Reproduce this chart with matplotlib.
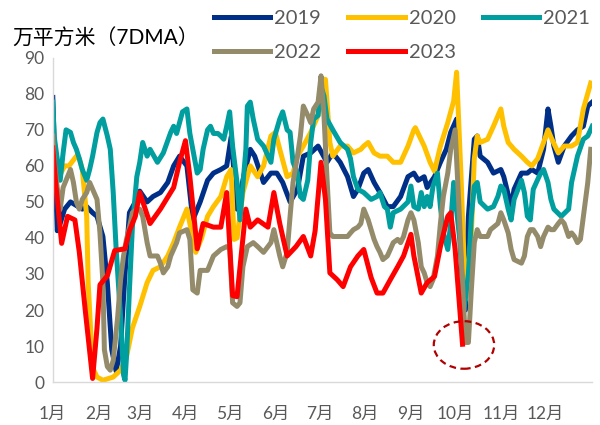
import matplotlib
matplotlib.use("Agg")
import matplotlib.pyplot as plt
from matplotlib.patches import Ellipse

plt.rcParams['font.family'] = ['Lato', 'Noto Sans CJK SC', 'DejaVu Sans']

# day of year -> 7DMA value
days_2019 = [0, 1, 3, 5, 8, 12, 16, 20, 23, 27, 30, 34, 37, 40, 43, 46, 49, 52, 56, 59,
             64, 68, 73, 78, 82, 86, 91, 95, 100, 105, 109, 114, 118, 121, 125, 130, 134, 137,
             143, 148, 152, 156, 161, 166, 170, 175, 180, 186, 190, 195, 200, 204, 207, 211,
             214, 218, 222, 227, 231, 236, 241, 245, 248, 252, 254, 259, 263, 267, 270, 274,
             277, 280, 282, 286, 288, 290, 295, 299, 304, 306, 311, 313, 318, 322, 325, 329,
             333, 336, 338, 340, 343, 347, 352, 356, 360, 363, 366]
vals_2019 = [79, 65, 42, 44, 48, 50, 49, 48, 48.7, 47, 46, 40.4, 27.6, 9, 3, 10, 30, 47, 50, 53,
             50, 51.5, 52.6, 55.4, 60, 62.7, 60, 45, 50, 56, 58, 59, 60, 68, 48, 58, 64.6, 62.7,
             55.4, 58, 58, 55.4, 50, 53.5, 62.7, 63.6, 65.5, 61, 63.6, 61, 57, 51.5, 53.5, 58,
             59, 55.4, 52.6, 48.7, 48.7, 51.5, 57, 58, 56, 57, 54, 57, 61, 64.6, 69.3, 73,
             36.8, 20, 46, 67.4, 68.3, 62.7, 61, 58, 59, 57, 48.7, 53.5, 58, 58, 59, 58,
             64.6, 75.8, 71, 65.5, 61, 65.5, 68.3, 70, 71, 76.6, 77.7]

days_2020 = [0, 3, 8, 11, 16, 18, 20, 23, 24, 27, 30, 34, 41, 46, 50, 54, 59, 64, 68, 73,
             78, 82, 86, 91, 94, 97, 101, 105, 109, 114, 118, 121, 123, 125, 129, 134, 139, 143,
             148, 151, 154, 159, 163, 166, 170, 175, 180, 182, 185, 188, 190, 195, 200, 204,
             209, 211, 214, 218, 222, 227, 231, 236, 241, 245, 246, 252, 256, 259, 263, 268,
             272, 274, 277, 280, 284, 286, 288, 290, 295, 299, 304, 306, 309, 313, 318, 322,
             325, 329, 333, 336, 338, 343, 347, 352, 356, 360, 365]
vals_2020 = [62, 56, 60, 60, 62.7, 62, 59, 46, 27.6, 4, 1.4, 0.5, 1.4, 3.3, 7, 15, 21, 27.6, 31, 32,
             35, 38.7, 43, 48, 42, 36, 40, 46, 48.7, 51.5, 57, 59, 39.6, 40, 52.6, 60, 57, 60,
             68.3, 69.3, 64.6, 57, 58, 62.7, 65.5, 69.3, 74, 84, 84, 66.5, 62.7, 65.5, 65.5, 63.6,
             64.6, 65.5, 66.5, 63.6, 62.7, 62.7, 61, 61, 65.5, 70, 70.6, 65.5, 61, 58.5, 65.5, 72,
             78, 86, 57, 23, 41, 62, 68.3, 66.5, 67.4, 71, 75.8, 71, 66.5, 64.6, 62.7, 61,
             60, 62, 66.5, 70, 68, 63.6, 65.5, 65.5, 66.5, 75.8, 83]

days_2021 = [0, 1, 5, 7, 9, 12, 14, 16, 18, 20, 23, 25, 27, 30, 32, 34, 37, 39, 41, 43,
             46, 48, 49, 50, 52, 54, 57, 59, 61, 64, 66, 71, 75, 80, 82, 84, 86, 88, 91, 93,
             95, 98, 100, 102, 105, 107, 109, 112, 114, 116, 118, 120, 122, 125, 127, 131, 132,
             134, 136, 139, 143, 148, 150, 154, 156, 159, 161, 163, 166, 168, 170, 173, 175,
             177, 180, 182, 184, 186, 190, 195, 200, 202, 204, 207, 211, 216, 220, 222, 225,
             227, 229, 231, 236, 241, 243, 245, 248, 250, 252, 254, 256, 258, 261, 263, 265,
             268, 270, 272, 276, 279, 282, 284, 286, 288, 290, 295, 299, 302, 304, 306, 309,
             311, 313, 318, 320, 322, 324, 326, 331, 333, 336, 338, 340, 345, 350, 352, 356,
             360, 363, 366]
vals_2021 = [77.7, 68, 56, 63.6, 70, 69.3, 66.5, 64.6, 62, 59, 56, 59, 62.7, 69.3, 72, 73, 68.3, 64.6, 52.6, 36.8,
             18, 2, 0.5, 7, 25.6, 43, 57, 61, 66.5, 62.7, 64.6, 61, 63.6, 69.3, 71, 69, 72, 75, 75.8, 69,
             64.6, 58, 59, 64.6, 70, 71, 69, 69, 68.3, 67.4, 71, 75, 65.5, 55.4, 45, 64.6, 76.6,
             77.7, 73, 67.4, 65.5, 61, 67.4, 73, 75, 70, 69.3, 61, 58, 51.5, 50.7, 56, 66.5,
             73, 74, 82, 79.4, 73, 70, 66.5, 64.6, 62, 57, 53.5, 52.6, 50.7, 51.5, 52.6, 48.7,
             48, 43, 47, 48, 50, 54.4, 48.7, 48, 52.6, 48.7, 51.5, 48.7, 54.4, 58, 48.7, 41.4,
             36.8, 44, 55.4, 40, 20, 30, 46, 54.4, 55.4, 50, 48, 48.7, 51.5, 54.4, 53.5, 48,
             45, 50.7, 56, 52.6, 46, 45, 53.5, 58, 59, 55.4, 50.7, 48, 46, 48, 55.4, 62.7,
             67.4, 68.3, 71]

days_2022 = [0, 1, 3, 5, 7, 12, 14, 16, 18, 20, 23, 25, 27, 30, 32, 34, 35, 37, 39, 41,
             44, 46, 48, 50, 52, 54, 57, 59, 61, 64, 66, 71, 73, 75, 78, 80, 84, 86, 91, 93,
             95, 98, 100, 105, 109, 114, 118, 120, 122, 125, 127, 129, 132, 136, 139, 143, 146,
             148, 150, 152, 154, 156, 159, 161, 163, 166, 168, 170, 173, 175, 177, 180, 182,
             184, 186, 188, 190, 195, 200, 202, 204, 207, 209, 211, 214, 216, 218, 220, 222,
             224, 227, 229, 231, 234, 236, 238, 241, 243, 245, 248, 250, 252, 254, 256, 258,
             261, 263, 265, 268, 270, 273, 275, 278, 280, 282, 284, 286, 288, 290, 295, 297,
             302, 304, 306, 309, 311, 313, 318, 320, 322, 324, 326, 329, 331, 333, 336, 338,
             340, 343, 345, 347, 350, 352, 354, 356, 358, 360, 363, 365]
vals_2022 = [68.3, 61, 54, 48, 54, 59, 55.4, 50, 48, 50.7, 52.6, 55.4, 53.5, 50.7, 41.4, 27.6, 9, 4.3, 3.3, 6,
             18, 28.4, 35, 39.6, 43, 47, 48, 48, 46, 38.7, 35, 35, 33, 30.3, 32, 35, 38.7, 41.4, 42.3, 39.6,
             25.6, 24.7, 31, 31, 35, 36.8, 37.6, 37, 22, 21, 22, 32, 37.6, 38.7, 37.6, 36, 37.6,
             38.7, 42.3, 38.7, 35, 32, 36, 46, 55.4, 62.7, 68.3, 76.6, 74, 72, 75.8, 77.7, 85,
             74, 57, 41.4, 40.4, 40.4, 40.4, 41.4, 42.3, 43, 44, 48, 45, 42.3, 39.6, 37.6, 36,
             34, 35, 36.8, 38.7, 39.6, 38.7, 40.4, 45, 47, 45, 38.7, 32, 30.3, 27.6, 26.5, 28.4,
             35, 44, 51.5, 58, 64.6, 70, 53.5, 27.6, 11, 11, 25.6, 38.7, 42.3, 40.4, 40.4, 42.3,
             44, 47, 45, 41.4, 36.8, 34, 33, 35, 40.4, 42.3, 42.3, 40.4, 37.6, 40.4, 43, 42.3,
             42.3, 44, 45, 44, 40.4, 41.4, 40.4, 38.7, 39.6, 46, 55.4, 64.6]

days_2023 = [0, 2, 6, 10, 15, 18, 22, 27, 30, 32, 37, 42, 49, 52, 56, 59, 66, 73, 82, 86,
             90, 93, 98, 102, 109, 114, 118, 122, 125, 131, 134, 139, 146, 150, 154, 159, 165,
             170, 175, 178, 182, 185, 188, 193, 197, 202, 207, 211, 216, 220, 224, 229, 234,
             238, 243, 245, 250, 254, 259, 263, 268, 270, 273, 278]
vals_2023 = [65, 55, 38.5, 46, 45, 36, 20, 1, 15, 27, 29.5, 36.5, 37, 42, 46, 52.6, 44, 48, 54, 61,
             67, 57, 37, 44, 43, 43, 52.6, 24, 23.7, 48, 43, 45, 43, 52.6, 44, 35, 37.6,
             40.4, 35, 42, 61, 50.7, 30.3, 28.4, 26.5, 32, 35, 36.8, 29, 24.7, 24.7, 28.4, 32,
             35, 41, 35, 24.7, 27.6, 29.3, 37.6, 46, 47, 36.8, 10.5]

years = ['2019', '2020', '2021', '2022', '2023']
colors = ['#002F87', '#FFC000', '#009E9E', '#948B6B', '#FF0000']
month_starts = [0, 31, 59, 90, 120, 151, 181, 212, 243, 273, 304, 334]
month_labels = ['1月', '2月', '3月', '4月', '5月', '6月', '7月', '8月', '9月', '10月', '11月', '12月']

series = [(days_2019, vals_2019), (days_2020, vals_2020), (days_2021, vals_2021),
          (days_2022, vals_2022), (days_2023, vals_2023)]

fig = plt.figure(figsize=(6, 4.25), dpi=100)
ax = fig.add_axes([0.088, 0.101, 0.899, 0.763])

lines = {}
for yr, col, (d, v) in zip(years, colors, series):
    ln, = ax.plot(d, v, color=col, lw=3.6, solid_joinstyle='round', label=yr)
    lines[yr] = ln

# dashed circle marking the October holiday dip
ax.add_patch(Ellipse((279, 10.3), 41, 13.2, fill=False, ls=(0, (3, 2)),
                     lw=1.6, edgecolor='#B00000', zorder=5))

ax.set_xlim(0, 366)
ax.set_ylim(0, 90)
ax.set_yticks(range(0, 91, 10))
ax.set_xticks(month_starts)
ax.set_xticklabels(month_labels)
ax.tick_params(length=0, labelsize=12.5, colors='#595959')
ax.tick_params(axis='x', pad=17)
ax.tick_params(axis='y', pad=6)
for s in ['top', 'right']:
    ax.spines[s].set_visible(False)
for s in ['left', 'bottom']:
    ax.spines[s].set_color('#D9D9D9')
    ax.spines[s].set_linewidth(1.0)

fig.text(0.02, 0.894, '万平方米（7DMA）', fontsize=15, color='black', va='baseline')

order = ['2019', '2022', '2020', '2023', '2021']
fig.legend([lines[k] for k in order], order, loc='upper left',
           bbox_to_anchor=(0.326, 1.02), ncol=3, frameon=False,
           fontsize=14.5, handlelength=2.8, handletextpad=0.2,
           columnspacing=1.35, labelspacing=0.85, labelcolor='#595959')

fig.savefig('out.png', dpi=100)
